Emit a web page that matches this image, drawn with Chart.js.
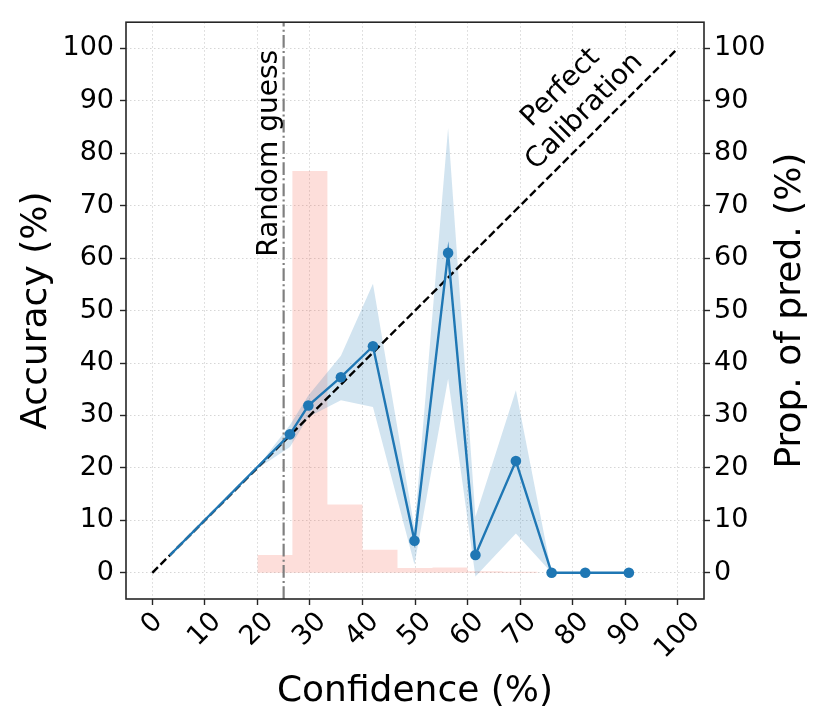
<!DOCTYPE html>
<html><head><meta charset="utf-8">
<script src="https://cdn.jsdelivr.net/npm/chart.js@4.4.1/dist/chart.umd.min.js"></script>
<style>html,body{margin:0;padding:0;background:#fff;overflow:hidden;}</style>
</head><body>
<canvas id="c" width="830" height="727" style="width:830px;height:727px;display:block"></canvas>
<script>
// ---- data ----
const xTicks = [0, 10, 20, 30, 40, 50, 60, 70, 80, 90, 100];
const yTicks = [0, 10, 20, 30, 40, 50, 60, 70, 80, 90, 100];
const axisMin = -5, axisMax = 105;

const confidence = [3.3, 26.2, 29.7, 35.9, 42.0, 49.9, 56.3, 61.5, 69.2, 76.0, 82.4, 90.7];
const accuracy   = [3.3, 26.4, 31.9, 37.3, 43.2, 6.1, 61.0, 3.4, 21.3, 0, 0, 0];

const bandConf  = [19.5, 26.2, 29.7, 35.9, 42.0, 49.9, 56.3, 61.5, 69.2, 76.0];
const bandLower = [19.5, 24.0, 29.7, 32.9, 31.6, 1.6, 37.0, -0.7, 7.5, 0];
const bandUpper = [19.5, 28.2, 33.8, 41.4, 55.1, 8.5, 84.8, 10.7, 34.8, 0];

const histEdges = [20, 26.67, 33.33, 40, 46.67, 53.33, 60, 66.67, 73.33];
const histProp  = [3.4, 76.6, 13.0, 4.4, 0.9, 1.0, 0.3, 0.2];

const perfectX = [0, 100];
const perfectY = [0, 100];
const randomGuess = 25;

const labels = {
  x: 'Confidence (%)', y: 'Accuracy (%)', y2: 'Prop. of pred. (%)',
  random: 'Random guess', perfect: ['Perfect', 'Calibration']
};

// ---- build ----
const FONT = "'DejaVu Sans', 'Liberation Sans', sans-serif";
const pts = (xs, ys) => xs.map((x, i) => ({x, y: ys[i]}));
const histPoints = histEdges.map((e, i) => ({x: e, y: i < histProp.length ? histProp[i] : 0}));

const gridColor = 'rgba(0,0,0,0.16)';
const spineColor = '#262626';

function setTicks(arr) { return s => { s.ticks = arr.map(v => ({value: v})); }; }

const overlay = {
  id: 'overlay',
  afterDatasetsDraw(chart) {
    const ctx = chart.ctx, xs = chart.scales.x, ys = chart.scales.y;
    ctx.save();
    ctx.fillStyle = '#000';
    ctx.font = '28px ' + FONT;
    // Random guess
    ctx.save();
    ctx.translate(xs.getPixelForValue(randomGuess) - 6.5, ys.getPixelForValue(80));
    ctx.rotate(-Math.PI / 2);
    ctx.textAlign = 'center';
    ctx.textBaseline = 'alphabetic';
    ctx.fillText(labels.random, 0, 0);
    ctx.restore();
    // Perfect calibration
    ctx.save();
    ctx.translate(xs.getPixelForValue(80), ys.getPixelForValue(90.2));
    ctx.rotate(-Math.PI / 4);
    ctx.textAlign = 'center';
    ctx.textBaseline = 'middle';
    ctx.fillText(labels.perfect[0], 0, -16.8);
    ctx.fillText(labels.perfect[1], 0, 16.8);
    ctx.restore();
    ctx.restore();
  },
  afterDraw(chart) {
    const ctx = chart.ctx, a = chart.chartArea, xs = chart.scales.x;
    ctx.save();
    // frame
    ctx.strokeStyle = spineColor;
    ctx.lineWidth = 1.6;
    ctx.strokeRect(a.left, a.top, a.right - a.left, a.bottom - a.top);
    // rotated x tick labels (centered)
    ctx.fillStyle = '#000';
    ctx.font = '27px ' + FONT;
    const h = 27 * 1.164;
    xTicks.forEach(v => {
      const t = String(v);
      const w = ctx.measureText(t).width;
      const px = xs.getPixelForValue(v);
      const cy = a.bottom + 7.5 + (w + h) / (2 * Math.SQRT2);
      ctx.save();
      ctx.translate(px, cy);
      ctx.rotate(-Math.PI / 4);
      ctx.textAlign = 'center';
      ctx.textBaseline = 'middle';
      ctx.fillText(t, 0, 0);
      ctx.restore();
    });
    // axis titles
    ctx.font = '36px ' + FONT;
    ctx.textAlign = 'center';
    ctx.textBaseline = 'alphabetic';
    const cy = (a.top + a.bottom) / 2;
    ctx.fillText(labels.x, (a.left + a.right) / 2, 701);
    ctx.save(); ctx.translate(46, cy); ctx.rotate(-Math.PI / 2); ctx.fillText(labels.y, 0, 0); ctx.restore();
    ctx.save(); ctx.translate(800, cy); ctx.rotate(-Math.PI / 2); ctx.fillText(labels.y2, 0, 0); ctx.restore();
    ctx.restore();
  }
};

const tickFont = {family: FONT, size: 27};

new Chart(document.getElementById('c'), {
  type: 'line',
  data: {
    datasets: [
      { // histogram
        data: histPoints, yAxisID: 'y2', stepped: 'before', fill: 'origin',
        backgroundColor: 'rgba(245,90,70,0.2)', borderColor: 'rgba(0,0,0,0)', borderWidth: 0,
        pointRadius: 0, order: 6
      },
      { // band lower
        data: pts(bandConf, bandLower), yAxisID: 'y', fill: false,
        borderColor: 'rgba(0,0,0,0)', borderWidth: 0, pointRadius: 0, order: 5
      },
      { // band upper
        data: pts(bandConf, bandUpper), yAxisID: 'y', fill: '-1',
        backgroundColor: 'rgba(31,119,180,0.2)', borderColor: 'rgba(0,0,0,0)', borderWidth: 0,
        pointRadius: 0, order: 5
      },
      { // random guess
        data: [{x: randomGuess, y: axisMin}, {x: randomGuess, y: axisMax}], yAxisID: 'y',
        borderColor: '#7f7f7f', borderWidth: 2.2, borderDash: [12.8, 3.2, 2, 3.2],
        pointRadius: 0, fill: false, order: 3
      },
      { // calibration curve
        data: pts(confidence, accuracy), yAxisID: 'y',
        borderColor: '#1f77b4', borderWidth: 2.4, fill: false,
        pointRadius: c => c.dataIndex === 0 ? 0 : 5.3,
        pointBackgroundColor: '#1f77b4', pointBorderWidth: 0, order: 1
      },
      { // perfect calibration
        data: pts(perfectX, perfectY), yAxisID: 'y',
        borderColor: '#000', borderWidth: 2.4, borderDash: [8, 3.6],
        pointRadius: 0, fill: false, order: 2
      }
    ]
  },
  options: {
    responsive: false, animation: false, devicePixelRatio: 1,
    layout: {padding: {top: 21, left: 0, right: 0, bottom: 0}},
    elements: {line: {tension: 0}},
    plugins: {legend: {display: false}, tooltip: {enabled: false}},
    scales: {
      x: {
        type: 'linear', min: axisMin, max: axisMax,
        afterBuildTicks: setTicks(xTicks),
        ticks: {display: false},
        grid: {color: gridColor, lineWidth: 1, drawTicks: true, tickLength: 6, tickColor: spineColor, tickWidth: 1.4},
        border: {display: false, dash: [1.5, 2.5]},
        afterFit: s => { s.height = 128; }
      },
      y: {
        type: 'linear', position: 'left', min: axisMin, max: axisMax,
        afterBuildTicks: setTicks(yTicks),
        ticks: {font: tickFont, color: '#000', padding: 6, autoSkip: false},
        grid: {color: gridColor, lineWidth: 1, drawTicks: true, tickLength: 6, tickColor: spineColor, tickWidth: 1.4},
        border: {display: false, dash: [1.5, 2.5]},
        afterFit: s => { s.width = 126; }
      },
      y2: {
        type: 'linear', position: 'right', min: axisMin, max: axisMax,
        afterBuildTicks: setTicks(yTicks),
        ticks: {font: tickFont, color: '#000', padding: 4, autoSkip: false},
        grid: {drawOnChartArea: false, drawTicks: true, tickLength: 6, tickColor: spineColor, tickWidth: 1.4},
        border: {display: false},
        afterFit: s => { s.width = 126; }
      }
    }
  },
  plugins: [overlay]
});
</script>
</body></html>
